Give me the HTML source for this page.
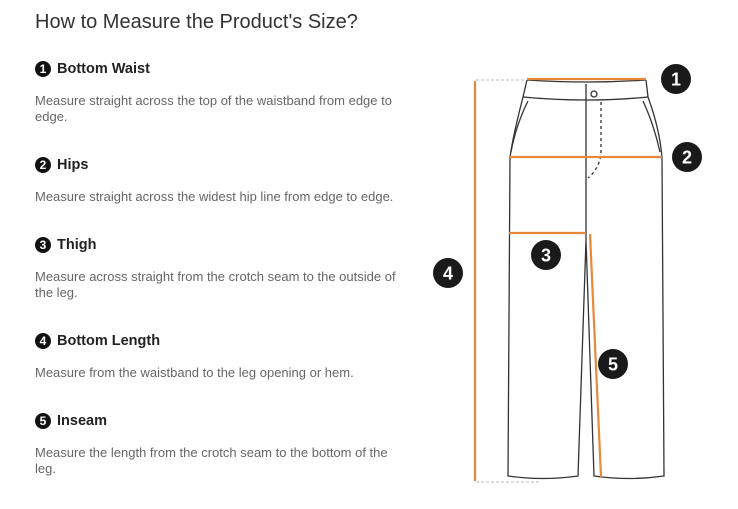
<!DOCTYPE html><html><head><style>
body{margin:0;width:738px;height:509px;background:#fff;font-family:"Liberation Sans",sans-serif;position:relative;overflow:hidden}
.t{position:absolute;left:35px;top:11px;font-size:20px;color:#333}
.h{position:absolute;left:35px;font-size:14.5px;font-weight:bold;color:#222;display:flex;align-items:center}
.h b{display:inline-block;width:16px;height:16px;border-radius:50%;background:#111;color:#fff;font-size:12px;text-align:center;line-height:16px;margin-right:6px}
.d{position:absolute;left:35px;white-space:nowrap;font-size:13px;line-height:16px;color:#666}
</style></head><body>
<div class="t">How to Measure the Product's Size?</div>
<div class="h" style="top:61px"><b>1</b>Bottom Waist</div>
<div class="d" style="top:93px">Measure straight across the top of the waistband from edge to<br>edge.</div>
<div class="h" style="top:157px"><b>2</b>Hips</div>
<div class="d" style="top:189px">Measure straight across the widest hip line from edge to edge.</div>
<div class="h" style="top:237px"><b>3</b>Thigh</div>
<div class="d" style="top:269px">Measure across straight from the crotch seam to the outside of<br>the leg.</div>
<div class="h" style="top:333px"><b>4</b>Bottom Length</div>
<div class="d" style="top:365px">Measure from the waistband to the leg opening or hem.</div>
<div class="h" style="top:413px"><b>5</b>Inseam</div>
<div class="d" style="top:445px">Measure the length from the crotch seam to the bottom of the<br>leg.</div>
<svg width="738" height="509" style="position:absolute;left:0;top:0">
<g fill="none" stroke="#333" stroke-width="1.3">
<path d="M527,80 Q586,84 646,80"/>
<path d="M523,97 Q586,103 648,97"/>
<path d="M527,80 L523,97 Q512,140 510,158 L508,476 Q543,481 578,476 L586,240 L594,476 Q629,481 664,476 L662,158 Q660,130 648,97 L646,80"/>
<path d="M586,84 L586,240"/>
<path d="M528,101 Q516,125 511,152"/>
<path d="M643,101 Q654,125 660,152"/>
<circle cx="594" cy="94" r="3"/>
<path d="M601,102 L601,155 Q598,170 588,178" stroke-dasharray="3,3"/>
</g>
<g stroke="#bbb" stroke-dasharray="3,2" stroke-width="1">
<path d="M476,80 L524,80"/><path d="M476,482 L540,482"/>
</g>
<g stroke="#e8883a" stroke-width="2.2">
<path d="M527,79 L646,79"/><path d="M510,157 L662,157"/><path d="M509,233 L586,233"/>
<path d="M590,234 L601,477"/><path d="M475,81 L475,481"/>
</g>
<g font-family="Liberation Sans" font-weight="bold" font-size="18" fill="#fff" text-anchor="middle">
<circle cx="676" cy="79" r="15" fill="#1a1a1a"/><text x="676" y="85.5">1</text>
<circle cx="687" cy="157" r="15" fill="#1a1a1a"/><text x="687" y="163.5">2</text>
<circle cx="546" cy="255" r="15" fill="#1a1a1a"/><text x="546" y="261.5">3</text>
<circle cx="448" cy="273" r="15" fill="#1a1a1a"/><text x="448" y="279.5">4</text>
<circle cx="613" cy="364" r="15" fill="#1a1a1a"/><text x="613" y="370.5">5</text>
</g>
</svg>
</body></html>
